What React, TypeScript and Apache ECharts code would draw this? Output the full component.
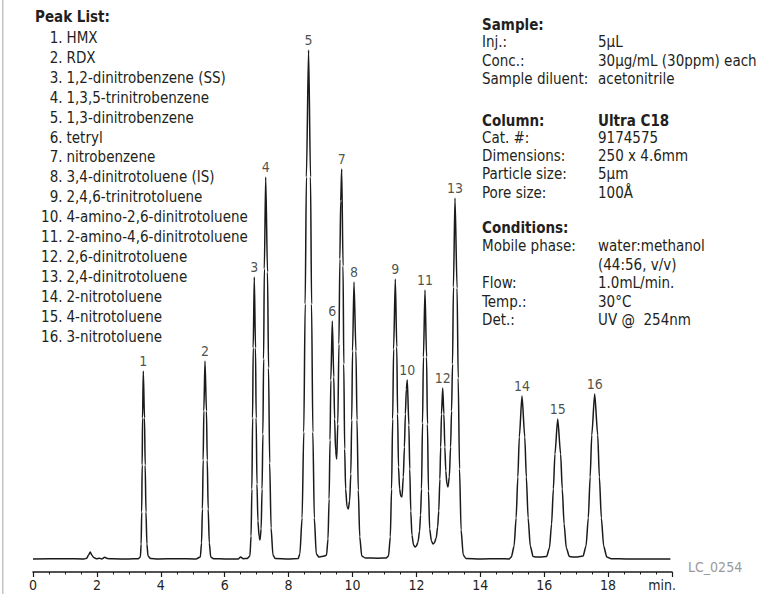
import React, { useEffect, useRef } from "react";
import * as echarts from "echarts";

const FONT = '"DejaVu Sans Condensed", "Liberation Sans Narrow", "DejaVu Sans", sans-serif';
const INK = "#231f20";

// x-axis tick labels (minutes)
const tickValues = [0, 2, 4, 6, 8, 10, 12, 14, 16, 18];

// peaks: number, retention time (min), apex height (arbitrary units)
const peakNumbers = ["1", "2", "3", "4", "5", "6", "7", "8", "9", "10", "11", "12", "13", "14", "15", "16"];
const peakTimes = [3.452, 5.383, 6.926, 7.283, 8.625, 9.368, 9.662, 10.047, 11.34, 11.715, 12.269, 12.823, 13.208, 15.305, 16.423, 17.58];
const peakHeights = [188, 198, 282, 382, 509, 238, 390, 277, 280, 179, 269, 171, 361, 163, 140, 165];

const peakNames = [
  "HMX",
  "RDX",
  "1,2-dinitrobenzene (SS)",
  "1,3,5-trinitrobenzene",
  "1,3-dinitrobenzene",
  "tetryl",
  "nitrobenzene",
  "3,4-dinitrotoluene (IS)",
  "2,4,6-trinitrotoluene",
  "4-amino-2,6-dinitrotoluene",
  "2-amino-4,6-dinitrotoluene",
  "2,6-dinitrotoluene",
  "2,4-dinitrotoluene",
  "2-nitrotoluene",
  "4-nitrotoluene",
  "3-nitrotoluene",
];

// chromatogram trace
const traceTime = [
  0, 1.0, 1.6, 1.68, 1.74, 1.79, 1.84, 1.9, 1.98, 2.08, 2.15, 2.25, 2.32, 2.5, 3.0, 3.3,
  3.361, 3.385, 3.402, 3.417, 3.429, 3.452, 3.49, 3.511, 3.536, 3.565, 3.6, 3.68, 3.9, 4.5, 5.1,
  5.238, 5.275, 5.303, 5.326, 5.347, 5.383, 5.429, 5.454, 5.483, 5.518, 5.563, 5.65, 6.0, 6.42, 6.5, 6.58, 6.7,
  6.79, 6.825, 6.851, 6.873, 6.892, 6.926, 6.964, 6.985, 7.01, 7.04, 7.075, 7.105,
  7.14, 7.17, 7.195, 7.218, 7.24, 7.283, 7.34, 7.372, 7.408, 7.452, 7.51, 7.58, 8.0, 8.3,
  8.352, 8.4225, 8.475, 8.519, 8.557, 8.625, 8.686, 8.719, 8.759, 8.805, 8.867, 8.95, 9.036, 9.12,
  9.188, 9.233, 9.268, 9.297, 9.322, 9.368, 9.414, 9.44, 9.472, 9.506,
  9.54, 9.575, 9.605, 9.63, 9.662, 9.704, 9.727, 9.755, 9.785, 9.83, 9.869,
  9.91, 9.947, 9.976, 10.001, 10.047, 10.108, 10.141, 10.181, 10.227, 10.289, 10.4, 10.8, 11.05,
  11.128, 11.183, 11.223, 11.257, 11.287, 11.34, 11.386, 11.411, 11.44, 11.475, 11.51, 11.549,
  11.59, 11.625, 11.655, 11.685, 11.715, 11.764, 11.792, 11.824, 11.86, 11.91, 11.96, 12.0,
  12.05, 12.1, 12.13, 12.16, 12.192, 12.22, 12.269, 12.318, 12.346, 12.378, 12.415, 12.47, 12.52, 12.56,
  12.62, 12.665, 12.7, 12.735, 12.76, 12.785, 12.823, 12.86, 12.89, 12.92, 12.955, 12.989,
  13.03, 13.07, 13.1, 13.131, 13.159, 13.208, 13.273, 13.308, 13.35, 13.399, 13.466, 13.55, 14.0, 14.6, 14.9,
  14.972, 15.058, 15.121, 15.175, 15.221, 15.305, 15.392, 15.441, 15.497, 15.564, 15.653, 15.75, 15.87,
  16.075, 16.164, 16.231, 16.287, 16.336, 16.423, 16.514, 16.565, 16.623, 16.693, 16.787, 16.9, 17.02, 17.12,
  17.216, 17.31, 17.38, 17.438, 17.489, 17.58, 17.675, 17.727, 17.789, 17.861, 17.959, 18.1, 18.6, 19.95,
];
const traceSignal = [
  0, 0.3, 0, 0.8, 4, 7, 4, 1.5, 0.3, 0.8, 0, 1.8, 0.5, 0.2, 0, 0.3,
  2, 15, 47, 94, 141, 188, 141, 94, 47, 15, 3, 0.5, 0, 0.3, 0,
  2, 16, 50, 99, 148, 198, 148, 99, 50, 16, 2, 0.3, 0, 0, 2, 0.3, 0.5,
  3, 23, 70, 141, 211, 282, 211, 141, 75, 38, 23, 19,
  30, 70, 125, 200, 290, 382, 287, 191, 96, 31, 4, 0.5, 0, 0.5,
  5, 41, 127, 255, 382, 509, 382, 255, 127, 41, 5, 2, 2.5, 3,
  4, 20, 60, 119, 179, 238, 182, 140, 108, 100,
  135, 215, 300, 358, 390, 293, 195, 110, 70, 52, 50,
  58, 85, 139, 208, 277, 208, 139, 69, 22, 3, 1, 0.8, 1,
  3, 22, 70, 140, 210, 280, 212, 145, 92, 70, 63, 62,
  82, 112, 145, 170, 179, 134, 90, 48, 24, 14, 12, 13,
  17, 28, 44, 70, 136, 202, 269, 202, 135, 68, 30, 18, 15, 16,
  21, 32, 48, 80, 112, 145, 171, 145, 112, 88, 75, 72,
  82, 112, 148, 195, 272, 361, 271, 181, 90, 29, 4, 0.5, 0, 0.3, 0,
  2, 13, 41, 82, 122, 163, 122, 82, 41, 13, 2.5, 2, 2,
  2.5, 11, 35, 70, 105, 140, 105, 70, 35, 11, 2.5, 2, 2, 2.5,
  3, 13, 41, 82, 124, 165, 124, 82, 41, 13, 2, 0.3, 0, 0,
];

// info block on the right: [label, value, bold]
const sampleRows = [
  ["Inj.:", "5\u03bcL"],
  ["Conc.:", "30\u03bcg/mL (30ppm) each"],
  ["Sample diluent:", "acetonitrile"],
];
const columnRows = [
  ["Cat. #:", "9174575"],
  ["Dimensions:", "250 x 4.6mm"],
  ["Particle size:", "5\u03bcm"],
  ["Pore size:", "100\u00c5"],
];
const conditionRows = [
  ["Mobile phase:", "water:methanol"],
  ["", "(44:56, v/v)"],
  ["Flow:", "1.0mL/min."],
  ["Temp.:", "30\u00b0C"],
  ["Det.:", "UV @  254nm"],
];

function txt(text: string, x: number, y: number, opts: any = {}) {
  const align = opts.align || "left";
  return {
    type: "text",
    x,
    y,
    silent: true,
    style: {
      text,
      fill: opts.fill || INK,
      fontSize: opts.fontSize || 15,
      fontFamily: FONT,
      fontWeight: opts.bold ? "bold" : "normal",
      align,
      textAlign: align,
      verticalAlign: "middle",
      textVerticalAlign: "middle",
    },
  };
}

export default function App() {
  const ref = useRef<HTMLDivElement>(null);

  useEffect(() => {
    if (!ref.current) return;
    const chart = echarts.init(ref.current, undefined, { renderer: "svg" });

    const graphics: any[] = [];
    graphics.push({
      type: "rect",
      silent: true,
      shape: { x: 2, y: 0, width: 1.5, height: 594 },
      style: { fill: "#c4c4c4" },
    });
    // Peak list
    graphics.push(txt("Peak List:", 35, 17, { bold: true }));
    peakNames.forEach((name, i) => {
      const y = 38 + i * 19.9;
      graphics.push(txt(peakNumbers[i] + ".", 62.5, y, { align: "right" }));
      graphics.push(txt(name, 66.5, y));
    });
    // Right info block
    const LX = 482;
    const VX = 598;
    graphics.push(txt("Sample:", LX, 25, { bold: true }));
    sampleRows.forEach((r, i) => {
      const y = 42 + i * 18.6;
      graphics.push(txt(r[0], LX, y));
      graphics.push(txt(r[1], VX, y));
    });
    graphics.push(txt("Column:", LX, 121, { bold: true }));
    graphics.push(txt("Ultra C18", VX, 121, { bold: true }));
    columnRows.forEach((r, i) => {
      const y = 137.5 + i * 18.4;
      graphics.push(txt(r[0], LX, y));
      graphics.push(txt(r[1], VX, y));
    });
    graphics.push(txt("Conditions:", LX, 227.5, { bold: true }));
    conditionRows.forEach((r, i) => {
      const y = 246 + i * 18.5;
      if (r[0]) graphics.push(txt(r[0], LX, y));
      graphics.push(txt(r[1], VX, y));
    });
    graphics.push(txt("LC_0254", 688, 567, { fill: "#9a9a9a", fontSize: 14 }));
    graphics.push(txt("min.", 662, 585, { align: "center", fontSize: 14 }));

    const option: any = {
      animation: false,
      backgroundColor: "#ffffff",
      grid: { left: 33, right: 93, top: 40, bottom: 22, containLabel: false },
      xAxis: {
        type: "value",
        min: 0,
        max: 20,
        interval: 2,
        splitLine: { show: false },
        axisLine: { show: true, onZero: false, lineStyle: { color: "#1a1a1a", width: 1.5 } },
        axisTick: { show: true, inside: false, length: 5, lineStyle: { color: "#1a1a1a", width: 1.2 } },
        minorTick: { show: true, splitNumber: 4, length: 2.5, lineStyle: { color: "#1a1a1a", width: 1 } },
        minorSplitLine: { show: false },
        axisLabel: {
          show: true,
          margin: 6,
          color: INK,
          fontSize: 14,
          fontFamily: FONT,
          formatter: (v: number) => (tickValues.indexOf(v) >= 0 ? String(v) : ""),
        },
      },
      yAxis: {
        type: "value",
        min: -13,
        max: 519,
        show: false,
        splitLine: { show: false },
      },
      series: [
        {
          type: "line",
          data: traceTime.map((t, i) => [t, traceSignal[i]]),
          showSymbol: false,
          symbol: "none",
          smooth: 0.25,
          smoothMonotone: "x",
          clip: false,
          silent: true,
          lineStyle: { color: "#1a1a1a", width: 1.5 },
        },
        {
          type: "scatter",
          data: peakTimes.map((t, i) => [t, peakHeights[i]]),
          symbolSize: 0,
          silent: true,
          label: {
            show: true,
            position: "top",
            distance: 3,
            color: INK,
            fontSize: 14,
            fontFamily: FONT,
            formatter: (p: any) => peakNumbers[p.dataIndex],
          },
        },
      ],
      graphic: graphics,
    };
    chart.setOption(option);
    return () => chart.dispose();
  }, []);

  return (
    <div
      ref={ref}
      style={{ position: "absolute", left: 0, top: 0, width: 765, height: 594, background: "#fff" }}
    />
  );
}
